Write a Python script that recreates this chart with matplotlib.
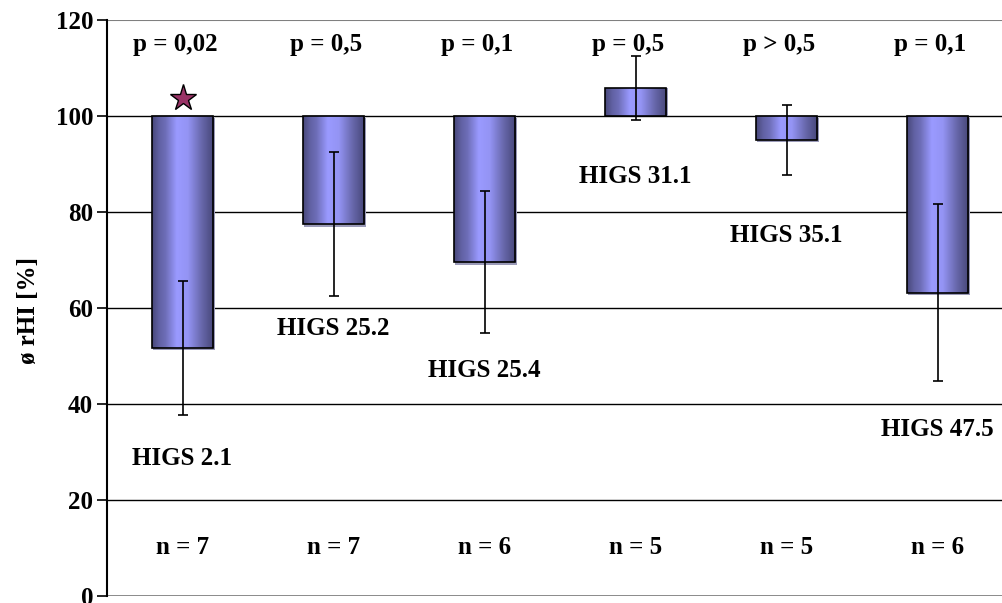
import numpy as np
import matplotlib
matplotlib.use("Agg")
import matplotlib.pyplot as plt
from matplotlib.colors import LinearSegmentedColormap

# Relative HI values (baseline 100 %) per line, with standard deviations
lines = ["HIGS 2.1", "HIGS 25.2", "HIGS 25.4", "HIGS 31.1", "HIGS 35.1", "HIGS 47.5"]
rhi_mean = [51.7, 77.4, 69.5, 105.8, 95.0, 63.2]
rhi_sd = [14.0, 15.0, 14.8, 6.7, 7.2, 18.4]
p_values = ["p = 0,02", "p = 0,5", "p = 0,1", "p = 0,5", "p > 0,5", "p = 0,1"]
n_counts = [7, 7, 6, 5, 5, 6]
significant = [True, False, False, False, False, False]
y_ticks = [0, 20, 40, 60, 80, 100, 120]

BASELINE = 100
plt.rcParams["font.family"] = ["Liberation Serif", "DejaVu Serif"]
plt.rcParams["font.weight"] = "bold"

fig = plt.figure(figsize=(10.02, 6.03), dpi=100)
ax = fig.add_axes([107 / 1002, 7 / 603, 895 / 1002, 576 / 603])

x = np.arange(len(lines))
ax.set_xlim(-0.5, -0.5 + 895 / 151)
ax.set_ylim(0, 120)

# horizontal grid
for t in y_ticks[1:-1]:
    ax.axhline(t, color="black", lw=1.0, zorder=1)
ax.axhline(120, color="#808080", lw=1.5, zorder=1)
ax.axhline(0, color="#808080", lw=2.0, zorder=1)

# cylinder-like shading for the bars
shade = LinearSegmentedColormap.from_list(
    "cyl",
    [(0.0, "#48487a"), (0.12, "#6262a4"), (0.22, "#6e6eb8"),
     (0.40, "#9a9aff"), (0.58, "#9494f4"), (0.80, "#6868ac"), (1.0, "#464678")])
grad = np.linspace(0, 1, 256)[None, :]

heights = [v - BASELINE for v in rhi_mean]
bars = ax.bar(x, heights, bottom=BASELINE, width=0.41, facecolor="none",
              edgecolor="black", linewidth=1.2, zorder=3)
for b in bars:
    x0, y0 = b.get_x(), b.get_y()
    w, h = b.get_width(), b.get_height()
    # soft drop shadow
    ax.add_patch(plt.Rectangle((x0 + 0.012, y0 - 0.5 if h < 0 else y0),
                               w, h, facecolor="#9a9ab8", edgecolor="none",
                               zorder=2))
    im = ax.imshow(grad, cmap=shade, aspect="auto", zorder=2.5,
                   extent=[x0, x0 + w, min(y0, y0 + h), max(y0, y0 + h)])
    im.set_clip_path(b)

ax.errorbar(x, rhi_mean, yerr=rhi_sd, fmt="none", ecolor="black",
            elinewidth=1.2, capsize=3.5, capthick=1.2, zorder=4)

# significance star
for xi, v, s in zip(x, rhi_mean, significant):
    if s:
        ax.plot(xi, BASELINE + 3.7, marker="*", ms=20, mfc="#993366",
                mec="black", mew=1.0, zorder=5, clip_on=False)

fs = 18
name_y = [28.7, 55.8, 47.0, 87.3, 75.0, 34.6]
for xi, p in zip(x, p_values):
    ax.text(xi - 0.05, 114.8, p, ha="center", va="center", fontsize=fs,
            fontweight="bold")
for xi, name, yy in zip(x, lines, name_y):
    ax.text(xi, yy, name, ha="center", va="center", fontsize=fs,
            fontweight="bold")
for xi, n in zip(x, n_counts):
    ax.text(xi, 10, f"n = {n}", ha="center", va="center", fontsize=fs,
            fontweight="bold")

ax.set_yticks(y_ticks)
ax.set_yticklabels([str(t) for t in y_ticks], fontsize=fs, fontweight="bold")
ax.tick_params(axis="y", direction="out", length=7, width=1.2, pad=3)
ax.set_xticks([])
for s in ["top", "right", "bottom"]:
    ax.spines[s].set_visible(False)
ax.spines["left"].set_linewidth(1.5)
ax.set_ylabel("ø rHI [%]", fontsize=18, fontweight="bold")
ax.yaxis.set_label_coords(-0.075, 0.495)

fig.savefig("out.png", dpi=100)
